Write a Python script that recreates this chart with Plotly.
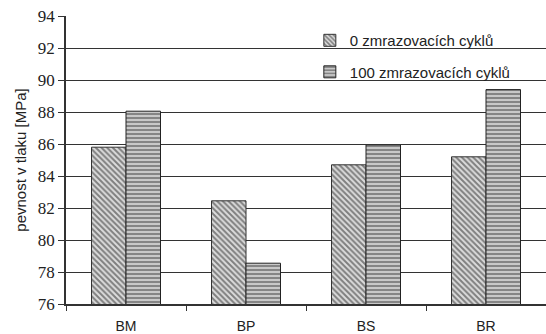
import plotly.graph_objects as go

categories = ["BM", "BP", "BS", "BR"]
cycles_0 = [85.8, 82.45, 84.7, 85.2]
cycles_100 = [88.05, 78.55, 85.95, 89.4]
series_names = ["0 zmrazovacích cyklů", "100 zmrazovacích cyklů"]
y_ticks = [76, 78, 80, 82, 84, 86, 88, 90, 92, 94]

fig = go.Figure()
fig.add_trace(go.Bar(
    x=categories, y=cycles_0, name=series_names[0], legendgroup="a",
    marker=dict(color="white", line=dict(color="#333", width=1),
                pattern=dict(shape="\\", fgcolor="#222", bgcolor="#dcdcdc",
                             size=4, solidity=0.5)),
))
fig.add_trace(go.Bar(
    x=categories, y=cycles_100, name=series_names[1], legendgroup="b",
    marker=dict(color="white", line=dict(color="#222", width=1),
                pattern=dict(shape="-", fgcolor="#333", bgcolor="#c8c8c8",
                             size=4, solidity=0.45)),
))

fig.update_layout(
    width=546, height=334,
    margin=dict(l=66, r=0, t=16, b=30),
    paper_bgcolor="white", plot_bgcolor="white",
    barmode="group", bargap=0.425, bargroupgap=0,
    showlegend=True,
    legend=dict(x=0.508, y=0.972, xanchor="left", yanchor="top",
                bgcolor="rgba(0,0,0,0)", tracegroupgap=9,
                font=dict(family="Liberation Sans, Arial", size=15, color="#222"),
                itemwidth=30),
    font=dict(family="Liberation Sans, Arial", color="#222"),
)
fig.update_yaxes(
    range=[76, 94], tickvals=y_ticks, showgrid=True, gridcolor="#333", gridwidth=1,
    showline=True, linecolor="#333", linewidth=1.5, ticks="outside", ticklen=6,
    tickcolor="#333",
    tickfont=dict(family="Times New Roman, Liberation Serif, DejaVu Serif, serif",
                  size=17, color="#222"),
    title=dict(text="pevnost v tlaku [MPa]", standoff=8,
               font=dict(family="Liberation Sans, Arial", size=15, color="#222")),
    zeroline=False,
)
fig.update_xaxes(
    range=[-0.5, 3.5], showline=True, linecolor="#333", linewidth=1.5,
    ticks="outside", tickson="boundaries", ticklen=5, tickcolor="#333",
    tickfont=dict(family="Liberation Sans Narrow, Liberation Sans, Arial", size=14,
                  color="#222"),
    ticklabelstandoff=8,
)

fig.write_html("out.html")
